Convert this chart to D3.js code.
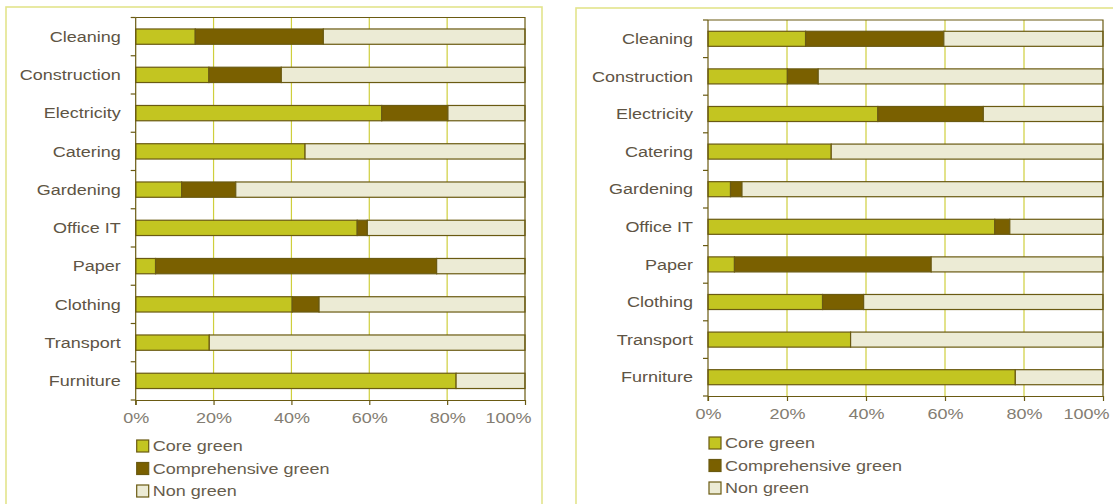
<!DOCTYPE html>
<html>
<head>
<meta charset="utf-8">
<script src="https://cdn.jsdelivr.net/npm/d3@7"></script>
<style>
  body { margin: 0; background: #fff; }
  svg { display: block; font-family: "Liberation Sans", Arial, Helvetica, sans-serif; }
</style>
</head>
<body>
<svg id="chart" width="1113" height="504"></svg>
<script>
// Share of contracts by product group, split into green-ness levels (percent)
const categories = ["Cleaning", "Construction", "Electricity", "Catering", "Gardening",
                    "Office IT", "Paper", "Clothing", "Transport", "Furniture"];
const seriesNames = ["Core green", "Comprehensive green", "Non green"];

const leftCore = [15.3, 18.8, 63.2, 43.5, 11.8, 56.9, 5.1, 40.2, 18.9, 82.3];
const leftComp = [32.9, 18.6, 17.0, 0, 13.9, 2.6, 72.2, 6.9, 0, 0];
const leftNon  = [51.8, 62.6, 19.8, 56.5, 74.3, 40.5, 22.7, 52.9, 81.1, 17.7];

const rightCore = [24.7, 20.1, 43.0, 31.2, 5.7, 72.6, 6.7, 29.0, 36.1, 77.8];
const rightComp = [35.0, 7.8, 26.7, 0, 2.9, 3.8, 49.8, 10.4, 0, 0];
const rightNon  = [40.3, 72.1, 30.3, 68.8, 91.4, 23.6, 43.5, 60.6, 63.9, 22.2];

const tickValues = [0, 20, 40, 60, 80, 100];
const tickLabels = ["0%", "20%", "40%", "60%", "80%", "100%"];

// styling
const fills = ["#c3c521", "#7a6000", "#ecebd5"];
const barStroke = "#6a5a12";
const axisColor = "#6a5a12";
const gridColor = "#cfcf3c";
const frameColor = "#e3e48c";
const labelColor = "#5e5444";
const tickColor = "#837d72";
const legendColor = "#675d4d";
const stretch = 1.2;   // horizontal text stretch
const fontSize = 15;

const svg = d3.select("#chart");

const panels = [
  { core: leftCore, comp: leftComp, non: leftNon,
    frame: { x: 6, y: 7, w: 536, h: 540 },
    x0: 135.7, x1: 525, y0: 17.5, y1: 400, legendY: 446 },
  { core: rightCore, comp: rightComp, non: rightNon,
    frame: { x: 576, y: 8, w: 580, h: 540 },
    x0: 708, x1: 1103, y0: 20, y1: 396, legendY: 443 }
];

panels.forEach(p => {
  const g = svg.append("g");

  // outer panel frame
  g.append("rect")
    .attr("x", p.frame.x).attr("y", p.frame.y)
    .attr("width", p.frame.w).attr("height", p.frame.h)
    .attr("fill", "none").attr("stroke", frameColor).attr("stroke-width", 1.6);

  const x = d3.scaleLinear().domain([0, 100]).range([p.x0, p.x1]);
  const y = d3.scaleBand().domain(categories).range([p.y0, p.y1])
    .paddingInner(0.6).paddingOuter(0.3);

  // vertical gridlines
  g.append("g").selectAll("line")
    .data(tickValues.filter(v => v > 0 && v < 100))
    .join("line")
    .attr("x1", d => x(d)).attr("x2", d => x(d))
    .attr("y1", p.y0).attr("y2", p.y1)
    .attr("stroke", gridColor).attr("stroke-width", 1.2);

  // stacked bars
  const rows = categories.map((c, i) => ({ cat: c, core: p.core[i], comp: p.comp[i], non: p.non[i] }));
  const stack = d3.stack().keys(["core", "comp", "non"]);
  const layers = stack(rows);

  g.append("g").selectAll("g")
    .data(layers)
    .join("g")
    .attr("fill", (d, i) => fills[i])
    .selectAll("rect")
    .data(d => d.filter(s => s[1] - s[0] > 0))
    .join("rect")
    .attr("x", d => x(d[0]))
    .attr("width", d => x(d[1]) - x(d[0]))
    .attr("y", d => y(d.data.cat))
    .attr("height", y.bandwidth())
    .attr("stroke", barStroke).attr("stroke-width", 1.2);

  // plot frame (top and right edges)
  g.append("path")
    .attr("d", `M${x(0)},${p.y0}H${x(100)}V${p.y1}`)
    .attr("fill", "none").attr("stroke", axisColor).attr("stroke-width", 1.2);

  // x axis
  const xAxis = d3.axisBottom(x).tickValues(tickValues)
    .tickFormat((d, i) => tickLabels[i]).tickSize(5).tickSizeOuter(0);
  const gx = g.append("g").attr("transform", `translate(0,${p.y1})`).call(xAxis);
  gx.select(".domain").attr("stroke", axisColor).attr("stroke-width", 1.2);
  gx.selectAll(".tick line").attr("stroke", axisColor).attr("stroke-width", 1.2);
  gx.selectAll(".tick text")
    .attr("fill", tickColor).attr("font-size", fontSize)
    .attr("y", 23.4).attr("dy", null)
    .attr("text-anchor", d => d === 100 ? "end" : "middle")
    .attr("x", d => d === 100 ? 5 : 0)
    .attr("transform", `scale(${stretch},1)`)
    .attr("font-family", null);

  // y axis: ticks sit on the boundaries between categories
  g.append("line")
    .attr("x1", x(0)).attr("x2", x(0)).attr("y1", p.y0).attr("y2", p.y1 + 5)
    .attr("stroke", axisColor).attr("stroke-width", 1.2);
  const step = y.step();
  const bounds = d3.range(categories.length + 1).map(i => p.y0 + i * step);
  g.append("g").selectAll("line")
    .data(bounds)
    .join("line")
    .attr("x1", x(0) - 5).attr("x2", x(0))
    .attr("y1", d => d).attr("y2", d => d)
    .attr("stroke", axisColor).attr("stroke-width", 1.2);

  g.append("g").selectAll("text")
    .data(categories)
    .join("text")
    .attr("transform", d => `translate(${x(0) - 15},${y(d) + y.bandwidth() / 2}) scale(${stretch},1)`)
    .attr("dy", "0.35em")
    .attr("text-anchor", "end")
    .attr("font-size", fontSize)
    .attr("fill", labelColor)
    .text(d => d);

  // legend
  const lg = g.append("g").selectAll("g")
    .data(seriesNames)
    .join("g")
    .attr("transform", (d, i) => `translate(${x(0)},${p.legendY + i * 22.5})`);
  lg.append("rect")
    .attr("x", 1).attr("y", -6).attr("width", 12).attr("height", 12)
    .attr("fill", (d, i) => fills[i]).attr("stroke", barStroke).attr("stroke-width", 1.2);
  lg.append("text")
    .attr("transform", `translate(17,0) scale(${stretch},1)`)
    .attr("dy", "0.35em")
    .attr("font-size", fontSize)
    .attr("fill", legendColor)
    .text(d => d);
});
</script>
</body>
</html>
